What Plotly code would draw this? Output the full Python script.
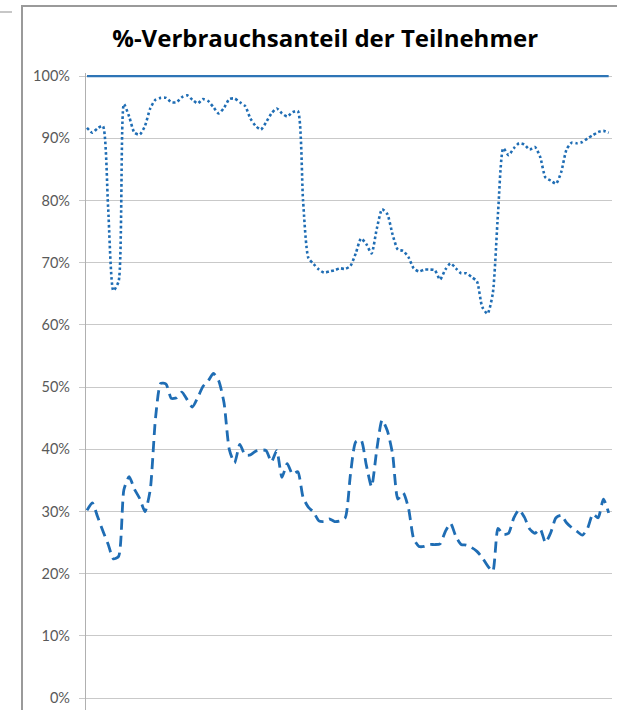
import plotly.graph_objects as go

# Messpunkte (Index der Erfassung)
index = list(range(100))

# 100 %-Referenz (Gesamtverbrauch)
gesamt = [1.0] * 100

# Verbrauchsanteil Gruppe A (gepunktet), in Prozent
anteil_a = [91.7, 90.9, 91.6, 92.0, 79.0, 65.5, 67.0, 95.5, 93.5, 90.9,
            90.6, 92.0, 94.8, 96.2, 96.5, 96.5, 95.8, 95.8, 96.6, 96.9,
            96.2, 95.6, 96.3, 96.0, 95.0, 94.0, 94.9, 96.3, 96.4, 95.8,
            95.2, 93.2, 92.0, 91.4, 92.6, 94.0, 94.8, 94.0, 93.5, 94.2,
            94.4, 80.0, 70.8, 69.8, 68.9, 68.4, 68.6, 68.8, 69.1, 69.0,
            69.5, 71.5, 73.9, 73.0, 71.5, 75.5, 78.6, 77.8, 74.5, 72.1,
            71.9, 70.9, 69.1, 68.6, 68.9, 68.9, 68.8, 67.3, 68.9, 69.9,
            69.1, 68.3, 68.3, 67.7, 67.0, 62.9, 61.8, 65.0, 78.0, 88.4,
            87.3, 88.4, 89.2, 89.0, 88.2, 88.6, 87.0, 83.7, 83.2, 82.7,
            84.6, 88.2, 89.3, 89.2, 89.4, 90.0, 90.5, 91.0, 91.2, 90.9]

# Verbrauchsanteil Gruppe B (gestrichelt), in Prozent
anteil_b = [30.2, 31.4, 29.2, 26.9, 24.8, 22.4, 22.8, 33.5, 35.6, 33.6,
            32.1, 30.0, 33.5, 45.0, 50.6, 50.5, 48.2, 48.3, 49.2, 48.0,
            46.8, 48.3, 50.1, 51.0, 52.2, 51.0, 47.5, 40.0, 37.8, 40.8,
            39.1, 39.1, 39.7, 39.9, 39.8, 38.0, 39.8, 35.5, 37.7, 36.0,
            36.4, 32.3, 30.7, 29.9, 28.5, 28.4, 28.8, 28.4, 28.5, 29.0,
            36.0, 41.2, 41.5, 37.5, 34.0, 40.0, 44.7, 43.0, 39.2, 32.0,
            33.0, 30.6, 25.6, 24.4, 24.4, 24.7, 24.7, 24.8, 26.8, 28.1,
            26.0, 24.7, 24.6, 24.2, 23.6, 22.6, 21.3, 20.4, 27.3, 26.3,
            26.5, 29.0, 30.3, 29.1, 27.2, 26.5, 27.2, 25.0, 26.6, 29.0,
            29.4, 28.2, 27.4, 26.8, 26.2, 27.3, 29.6, 29.0, 32.0, 29.8]

y_ticks = [0, 0.1, 0.2, 0.3, 0.4, 0.5, 0.6, 0.7, 0.8, 0.9, 1.0]
y_labels = ["0%", "10%", "20%", "30%", "40%", "50%", "60%", "70%", "80%", "90%", "100%"]

blue = "#1f6db4"

fig = go.Figure()
fig.add_trace(go.Scatter(x=index, y=gesamt, mode="lines",
                         line=dict(color="#2e75b6", width=2.2), hoverinfo="skip"))
fig.add_trace(go.Scatter(x=index, y=[v / 100 for v in anteil_a], mode="lines",
                         line=dict(color=blue, width=2.6, dash="2.6px,2.6px", shape="spline", smoothing=0.6)))
fig.add_trace(go.Scatter(x=index, y=[v / 100 for v in anteil_b], mode="lines",
                         line=dict(color=blue, width=2.8, dash="11px,6px", shape="spline", smoothing=0.6)))

fig.update_layout(
    width=617, height=710,
    margin=dict(l=86, r=5, t=73, b=0),
    paper_bgcolor="white", plot_bgcolor="white",
    showlegend=False,
    font=dict(family="Lato, Carlito, Calibri, sans-serif", color="#595959", size=14),
    title=dict(text="<b>%-Verbrauchsanteil der Teilnehmer</b>",
               x=0.527, xanchor="center", xref="container",
               y=0.945, yanchor="middle", yref="container",
               font=dict(family="Open Sans, sans-serif", size=24, color="#000000")),
    xaxis=dict(range=[-0.19, 99.63], showgrid=False, zeroline=False,
               showticklabels=False, ticks="", showline=False),
    yaxis=dict(range=[-0.019, 1.005], tickvals=y_ticks, ticktext=y_labels,
               showgrid=True, gridcolor="#c9c9c9", gridwidth=1.3,
               zeroline=False, showline=True, linecolor="#b0b0b0", linewidth=1.3,
               ticks="outside", ticklen=6, tickcolor="#c9c9c9", tickwidth=1.3,
               ticklabelstandoff=6,
               tickfont=dict(size=14.5, color="#595959")),
    shapes=[
        dict(type="line", xref="paper", yref="paper",
             x0=(22 - 86) / 526, x1=(22 - 86) / 526, y0=(710 - 5) / 637, y1=-0.01,
             line=dict(color="#9a9a9a", width=2)),
        dict(type="line", xref="paper", yref="paper",
             x0=(21 - 86) / 526, x1=(617 - 86) / 526 + 0.02, y0=(710 - 6) / 637, y1=(710 - 6) / 637,
             line=dict(color="#9a9a9a", width=2)),
        dict(type="line", xref="paper", yref="paper",
             x0=(0 - 86) / 526, x1=(12 - 86) / 526, y0=(710 - 12) / 637, y1=(710 - 12) / 637,
             line=dict(color="#b5b5b5", width=1.5)),
    ],
)

fig.write_html("out.html",
               config={"displayModeBar": False},
               post_script="document.body.style.margin='0';document.body.style.padding='0';")
